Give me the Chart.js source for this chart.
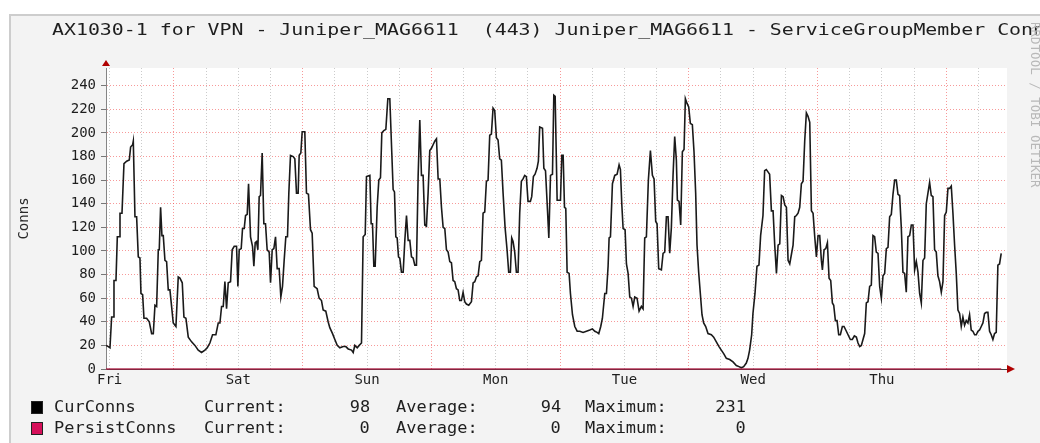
<!DOCTYPE html>
<html>
<head>
<meta charset="utf-8">
<script src="https://cdn.jsdelivr.net/npm/chart.js@4.4.1/dist/chart.umd.min.js"></script>
<style>
  html, body { margin: 0; padding: 0; background: #fff; width: 1040px; height: 443px; overflow: hidden; }
  #frame { position: absolute; left: 9px; top: 14px; width: 1060px; height: 460px; background: #f3f3f3;
           border-left: 2px solid #cdcdcd; border-top: 2px solid #cdcdcd; }
  #chart { position: absolute; left: 0; top: 0; }
  .t { position: absolute; font-family: "DejaVu Sans Mono", monospace; color: #1e1e1e; white-space: pre; line-height: 16px; }
  #title { left: 52px; top: 22px; font-size: 16px; transform: scaleX(1.242); transform-origin: left top; }
  .lg { font-size: 16px; transform: scaleX(1.06); transform-origin: left top; }
  .lg.r { transform-origin: right top; text-align: right; }
  .box { position: absolute; width: 10px; height: 11px; border: 1px solid #222; }
  #mark { left: 1029px; top: 22px; font-size: 12.5px; color: #b8b8b8; writing-mode: vertical-rl; line-height: 12px; }
</style>
</head>
<body>
<div id="frame"></div>
<canvas id="chart" width="1040" height="443"></canvas>
<div class="t" id="title">AX1030-1 for VPN - Juniper_MAG6611  (443) Juniper_MAG6611 - ServiceGroupMember Conns</div>
<div class="t" id="mark">RRDTOOL / TOBI OETIKER</div>
<div id="legend"></div>
<script>
// hours since Friday 00:00
const hours = [
  11.33, 11.76, 12.07, 12.38, 12.69, 12.82, 13.19, 13.44, 13.81, 13.94, 14.31, 14.68, 15.18, 15.67, 15.92, 16.30, 16.42,
  16.73, 17.04, 17.35, 17.66, 17.85, 18.16, 18.41, 18.90, 19.40, 19.84, 20.15, 20.46, 20.77, 21.08, 21.26, 21.51, 21.76,
  22.01, 22.32, 22.63, 22.94, 23.25, 23.56, 23.87, 24.37, 24.80, 25.11, 25.55, 25.86, 26.23, 26.67, 27.29, 27.91, 28.53,
  29.15, 29.77, 30.21, 30.70, 31.20, 31.82, 32.26, 32.57, 32.88, 33.19, 33.50, 33.81, 34.12, 34.55, 34.86, 35.24, 35.67,
  35.92, 36.17, 36.54, 36.79, 37.10, 37.35, 37.66, 37.91, 38.28, 38.65, 38.90, 39.15, 39.40, 39.65, 39.89, 40.14, 40.45,
  40.76, 41.07, 41.38, 41.76, 42.01, 42.32, 42.63, 42.94, 43.25, 43.62, 43.93, 44.24, 44.55, 44.86, 45.17, 45.42, 45.73,
  46.23, 46.54, 46.85, 47.16, 47.35, 47.66, 47.91, 48.40, 48.71, 49.08, 49.46, 49.77, 50.14, 50.70, 51.07, 51.51, 51.82,
  52.31, 52.75, 53.06,
  53.57, 54.00, 54.44, 54.94, 55.56, 56.05, 56.49, 57.11, 57.42, 57.73, 58.17, 58.54, 58.97, 59.28, 59.66, 59.90, 60.53,
  60.77, 61.02, 61.27, 61.52, 61.89, 62.20, 62.51, 62.76, 63.13, 63.51, 63.88, 64.25, 64.62, 64.87, 65.12, 65.37, 65.62,
  65.87, 66.11, 66.42, 66.74, 67.05, 67.36, 67.67, 67.98, 68.29, 68.60, 68.91, 69.22, 69.53, 69.84, 70.15, 70.46, 70.77,
  71.08, 71.39, 71.70, 72.01, 72.32, 72.63, 72.95, 73.26, 73.57, 73.88, 74.19, 74.50, 74.81, 75.12, 75.43, 75.74, 76.05,
  76.36, 76.67, 76.98, 77.29, 77.60, 77.91, 78.22, 78.53, 78.97, 79.47, 79.78, 80.09, 80.40, 80.71, 81.02, 81.33, 81.64,
  81.95, 82.26, 82.57, 82.88, 83.19, 83.50, 83.81, 84.12, 84.43, 84.74, 85.05, 85.37, 85.74, 86.11, 86.42, 86.73, 86.98,
  87.23, 87.54, 87.85, 88.16, 88.47, 88.78, 89.09, 89.40, 89.71, 90.02, 90.46, 90.71, 91.02, 91.33, 91.70, 91.95, 92.20,
  92.72, 92.97, 93.28, 93.59, 93.90, 94.21, 94.58, 94.83, 95.08, 95.45, 95.82, 96.07, 96.32, 96.57, 96.82, 97.06, 97.31,
  97.68, 97.93, 98.31, 98.74, 99.18, 99.67, 100.29, 100.91, 101.54, 102.03, 102.47, 102.90, 103.21, 103.58, 103.89,
  104.33, 104.64, 104.95, 105.14, 105.39, 105.76, 106.19, 106.63, 107.00, 107.25, 107.50, 107.75, 108.12, 108.37, 108.68,
  108.99, 109.30, 109.61, 109.92, 110.35, 110.73, 111.16, 111.47, 111.78, 112.09, 112.46, 112.84, 113.21, 113.52, 113.83,
  114.08, 114.39, 114.89, 115.20, 115.51, 115.82, 116.13, 116.44, 116.75, 117.06, 117.37, 117.68, 117.87, 118.18, 118.49,
  118.80, 119.11, 119.36, 119.67, 119.98, 120.29, 120.66, 120.97, 121.28, 121.53, 121.84, 122.15, 122.46, 122.77, 123.15,
  123.58, 124.20, 124.64, 125.13, 125.63, 126.06, 126.50, 127.00, 127.62, 128.24, 128.86, 129.36, 129.79, 130.23, 130.72,
  131.03, 131.34, 131.72, 131.96, 132.34, 132.71, 133.08, 133.39, 133.83, 134.14, 134.45, 134.76, 135.07,
  135.40, 135.71, 136.02, 136.34, 136.65, 136.96, 137.27, 137.58, 137.89, 138.20, 138.51, 138.82, 139.13, 139.44, 139.75,
  140.06, 140.37, 140.68, 140.99, 141.30, 141.61, 141.92, 142.23, 142.55, 142.86, 143.17, 143.48, 143.79, 144.10, 144.41,
  144.72, 144.91, 145.22, 145.53, 145.84, 146.15, 146.46, 146.77, 147.02, 147.33, 147.64, 147.95, 148.26, 148.63, 148.94,
  149.38, 149.69, 150.12, 150.49, 150.87, 151.24, 151.55, 151.86, 152.17, 152.48, 152.79, 153.10, 153.41, 153.72, 154.03,
  154.34, 154.65, 154.96, 155.28, 155.59, 155.90, 156.21, 156.52, 156.83, 157.14, 157.45, 157.76, 158.07, 158.38, 158.69,
  159.00, 159.31, 159.62, 159.93, 160.24, 160.55, 160.86, 161.18, 161.49, 161.80, 162.11, 162.42, 162.73, 163.04, 163.35,
  163.66, 163.97, 164.28, 164.59, 164.90, 165.21, 165.52, 165.83, 166.14, 166.45, 166.76, 167.08, 167.39, 167.70, 168.01,
  168.32, 168.63, 168.94, 169.25, 169.56, 169.87, 170.18, 170.49, 170.80, 171.11, 171.42, 171.73, 172.04, 172.35, 172.66,
  172.97, 173.29, 173.60, 173.91, 174.22, 174.53, 174.84, 175.15, 175.46, 175.77, 176.08, 176.39, 176.70, 177.01, 177.32,
  177.63, 177.94, 178.25
];
const curConns = [
  20, 19, 18, 44, 44, 75, 75, 112, 112, 132, 132, 174, 176, 177, 188, 190, 193,
  129, 129, 95, 94, 64, 63, 43, 43, 40, 30, 30, 54, 53, 101, 101, 137, 113,
  113, 92, 91, 67, 67, 53, 39, 36, 78, 77, 73, 44, 43, 27, 23, 20, 16,
  14, 16, 18, 22, 29, 29, 39, 39, 53, 53, 74, 51, 73, 74, 101, 104, 104,
  70, 101, 102, 119, 119, 130, 131, 157, 112, 104, 87, 107, 108, 101, 146, 147, 183,
  123, 123, 101, 99, 73, 101, 102, 112, 85, 85, 61, 70, 92, 112, 112, 149, 181,
  180, 178, 149, 149, 181, 183, 201, 201, 149, 148, 118, 115, 70, 68, 60, 58, 50,
  49, 40, 35,
  30, 25, 20, 18, 19, 19, 17, 16, 14, 20, 18, 20, 22, 112, 114, 163, 164,
  123, 123, 87, 87, 137, 160, 162, 200, 202, 203, 229, 229, 183, 152, 150, 112, 111,
  95, 94, 82, 82, 109, 130, 109, 109, 95, 94, 88, 88, 163, 211, 164, 164, 122,
  121, 149, 185, 187, 190, 193, 195, 161, 161, 137, 120, 119, 101, 99, 91, 90, 75,
  74, 68, 67, 58, 58, 65, 57, 55, 54, 57, 73, 74, 78, 79, 91, 92, 132,
  133, 159, 160, 198, 199, 221, 219, 196, 194, 178, 177, 149, 120, 101, 82, 82, 111,
  108, 99, 82, 82, 132, 159, 161, 164, 163, 142, 142, 146, 163, 165, 170, 176, 205,
  204, 170, 168, 140, 111, 164, 165, 232, 231, 143, 143, 143, 181, 181, 137, 136, 82,
  81, 64, 46, 36, 32, 32, 31, 32, 33, 34, 32, 31, 30, 36, 43,
  64, 64, 87, 111, 112, 157, 164, 165, 173, 169, 140, 119, 118, 89, 81,
  61, 60, 53, 61, 60, 49, 53, 51, 111, 112, 160, 185, 164, 161, 125,
  123, 85, 84, 98, 99, 129, 129, 98, 120, 164, 197, 177, 143, 142, 122,
  184, 186, 229, 225, 222, 208, 207, 184, 149, 105, 82, 64, 46, 39, 36,
  30, 29, 27, 23, 19, 16, 13, 9, 8, 6, 3, 2, 1, 2, 5,
  9, 16, 29, 47, 64, 87, 88, 113, 130, 168, 169, 167, 165,
  134, 134, 105, 81, 105, 106, 147, 146, 139, 137, 92, 89, 97, 105, 129,
  130, 132, 137, 157, 159, 193, 217, 214, 209, 134, 132, 112, 95, 113, 113,
  92, 84, 101, 102, 107, 77, 75, 56, 54, 41, 41, 29, 29, 36, 36,
  32, 29, 25, 25, 28, 27, 22, 19, 20, 25, 30, 56, 57, 70, 71,
  113, 112, 99, 98, 70, 60, 79, 81, 102, 103, 129, 131, 148, 160, 160,
  148, 147, 120, 82, 81, 65, 112, 113, 122, 122, 84, 91, 82, 64, 56,
  92, 94, 140, 149, 158, 147, 146, 101, 99, 79, 74, 65, 74, 130, 133,
  153, 153, 155, 132, 105, 81, 50, 47, 36, 44, 37, 41, 39, 46, 33,
  32, 29, 29, 32, 33, 36, 39, 47, 48, 48, 32, 29, 25, 30, 31,
  88, 89, 98
];
const persistHours = [11.33, 178.25];
const persistConns = [0, 0];

const dayNames = ['Fri', 'Sat', 'Sun', 'Mon', 'Tue', 'Wed', 'Thu'];
const xMin = 11.33, xMax = 179.33;
const yMax = 255;

const seriesNames = ['CurConns', 'PersistConns'];
const seriesColors = ['#000000', '#d6105a'];
const statCurrent = [98, 0];
const statAverage = [94, 0];
const statMaximum = [231, 0];

const gridGray = 'rgba(160,160,160,0.55)';
const gridRed = 'rgba(240,70,70,0.55)';

// legend, rrdtool style
const legend = document.getElementById('legend');
seriesNames.forEach((name, i) => {
  const top = 399 + i * 21;
  const parts = [
    ['lg', 54, name], ['lg', 204, 'Current:'], ['lg r', 370, String(statCurrent[i])],
    ['lg', 396, 'Average:'], ['lg r', 561, String(statAverage[i])],
    ['lg', 585, 'Maximum:'], ['lg r', 746, String(statMaximum[i])]
  ];
  parts.forEach(([cls, x, txt]) => {
    const d = document.createElement('div');
    d.className = 't ' + cls;
    d.textContent = txt;
    d.style.top = top + 'px';
    if (cls.includes('r')) d.style.right = (1040 - x) + 'px'; else d.style.left = x + 'px';
    legend.appendChild(d);
  });
  const b = document.createElement('div');
  b.className = 'box';
  b.style.left = '31px';
  b.style.top = (top + 2) + 'px';
  b.style.background = seriesColors[i];
  legend.appendChild(b);
});

const rrdDecor = {
  id: 'rrdDecor',
  beforeDraw(chart) {
    const { ctx, chartArea: a } = chart;
    ctx.save();
    ctx.fillStyle = '#ffffff';
    ctx.fillRect(a.left, a.top, a.right - a.left, a.bottom - a.top);
    ctx.restore();
  },
  afterDraw(chart) {
    const { ctx, chartArea: a } = chart;
    ctx.save();
    ctx.fillStyle = '#b00000';
    ctx.beginPath();
    ctx.moveTo(a.left - 4, a.top - 2);
    ctx.lineTo(a.left + 4, a.top - 2);
    ctx.lineTo(a.left, a.top - 8);
    ctx.closePath();
    ctx.fill();
    ctx.beginPath();
    ctx.moveTo(a.right, a.bottom - 4);
    ctx.lineTo(a.right, a.bottom + 4);
    ctx.lineTo(a.right + 8, a.bottom);
    ctx.closePath();
    ctx.fill();
    ctx.restore();
  }
};

Chart.defaults.font.family = '"DejaVu Sans Mono", monospace';
Chart.defaults.color = '#1e1e1e';

new Chart(document.getElementById('chart'), {
  type: 'line',
  data: {
    datasets: [
      {
        label: 'CurConns',
        data: hours.map((h, i) => ({ x: h, y: curConns[i] })),
        borderColor: '#1a1a1a',
        borderWidth: 1.6,
        pointRadius: 0,
        tension: 0,
        order: 1
      },
      {
        label: 'PersistConns',
        data: persistHours.map((h, i) => ({ x: h, y: persistConns[i] })),
        borderColor: 'rgba(170,20,60,0.85)',
        borderWidth: 1.6,
        pointRadius: 0,
        clip: 4,
        order: 0
      }
    ]
  },
  options: {
    responsive: false,
    animation: false,
    layout: { padding: { left: 0, right: 33, top: 68, bottom: 0 } },
    plugins: { legend: { display: false }, tooltip: { enabled: false } },
    scales: {
      x: {
        type: 'linear',
        min: xMin,
        max: xMax,
        afterBuildTicks: s => {
          const t = [];
          for (let h = 12; h <= xMax; h += 6) t.push({ value: h });
          s.ticks = t;
        },
        afterFit: s => { s.height = 74; },
        ticks: {
          autoSkip: false, maxRotation: 0, padding: 3,
          font: { size: 14 },
          callback: v => (v % 24 === 12 ? dayNames[(v - 12) / 24] : '')
        },
        grid: {
          drawTicks: false,
          lineWidth: 1,
          color: c => (c.tick && c.tick.value % 24 === 0 ? gridRed : gridGray)
        },
        border: { color: '#444', width: 1, dash: [1, 2] }
      },
      y: {
        min: 0,
        max: yMax,
        afterBuildTicks: s => {
          const t = [];
          for (let v = 0; v <= 250; v += 10) t.push({ value: v });
          s.ticks = t;
        },
        afterFit: s => { s.width = 106; },
        ticks: {
          padding: 5,
          font: { size: 14 },
          callback: v => (v % 20 === 0 ? String(v) : '')
        },
        grid: {
          drawTicks: true,
          tickLength: 5,
          lineWidth: 1,
          color: c => (c.tick && c.tick.value % 20 === 0 ? gridRed : gridGray),
          tickColor: c => (c.tick && c.tick.value % 20 === 0 ? '#777' : 'rgba(0,0,0,0)')
        },
        border: { color: '#858585', width: 1, dash: [1, 2] },
        title: {
          display: true, text: 'Conns', color: '#2a2a2a',
          font: { size: 14 },
          padding: { top: 16, bottom: 0 }
        }
      }
    }
  },
  plugins: [rrdDecor]
});
</script>
</body>
</html>
